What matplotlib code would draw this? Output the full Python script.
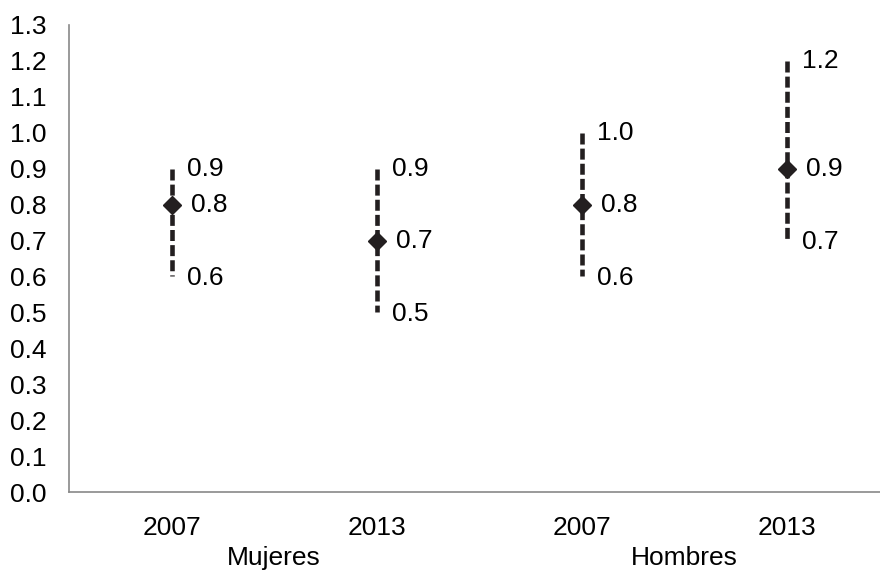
import matplotlib
matplotlib.use('Agg')
import matplotlib.pyplot as plt
from matplotlib.transforms import blended_transform_factory

plt.rcParams['font.family'] = ['Liberation Sans', 'DejaVu Sans']

years = ['2007', '2013', '2007', '2013']
groups = ['Mujeres', 'Hombres']
low = [0.6, 0.5, 0.6, 0.7]
mid = [0.8, 0.7, 0.8, 0.9]
high = [0.9, 0.9, 1.0, 1.2]

dark = '#231f20'
grey = '#898989'
fs = 19

fig = plt.figure(figsize=(8.8, 5.73), dpi=100)
ax = fig.add_axes([69 / 880, 81 / 573, 820 / 880, 467 / 573])

x = list(range(len(years)))
for i in x:
    ax.plot([i, i], [high[i], low[i]], color=dark, lw=3.3,
            linestyle=(0, (2.4, 0.9)), solid_capstyle='butt', dash_capstyle='butt')
    ax.plot(i, mid[i], marker='D', ms=9.5, color=dark, ls='none')
    ax.annotate(f'{high[i]:.1f}', (i, high[i]), xytext=(11, 0), textcoords='offset points',
                va='center', ha='left', fontsize=fs)
    ax.annotate(f'{mid[i]:.1f}', (i, mid[i]), xytext=(14, 0), textcoords='offset points',
                va='center', ha='left', fontsize=fs)
    ax.annotate(f'{low[i]:.1f}', (i, low[i]), xytext=(11, -1), textcoords='offset points',
                va='center', ha='left', fontsize=fs)

ax.set_xlim(-0.5, 3.5)
ax.set_ylim(0, 1.3)
ax.set_yticks([k / 10 for k in range(14)])
ax.set_yticklabels([f'{k / 10:.1f}' for k in range(14)])
ax.set_xticks(x)
ax.set_xticklabels(years)
ax.tick_params(axis='both', length=0, labelsize=fs)
ax.tick_params(axis='y', pad=16)
ax.tick_params(axis='x', pad=17)

for s in ['top', 'right']:
    ax.spines[s].set_visible(False)
for s in ['left', 'bottom']:
    ax.spines[s].set_color(grey)
    ax.spines[s].set_linewidth(1.2)

trans = blended_transform_factory(ax.transData, ax.transAxes)
for g, gx in zip(groups, [0.5, 2.5]):
    ax.text(gx, -0.142, g, transform=trans, ha='center', va='center', fontsize=fs)

fig.savefig('out.png', dpi=100)
